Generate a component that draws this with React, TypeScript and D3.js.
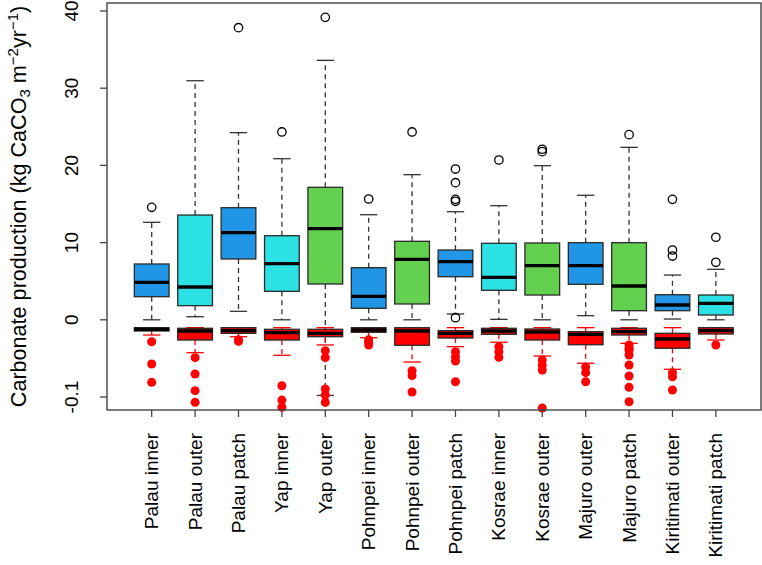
import React from "react";
import * as d3 from "d3";

const categories = [
  "Palau inner", "Palau outer", "Palau patch", "Yap inner", "Yap outer",
  "Pohnpei inner", "Pohnpei outer", "Pohnpei patch", "Kosrae inner", "Kosrae outer",
  "Majuro outer", "Majuro patch", "Kiritimati outer", "Kiritimati patch",
];

const BLUE = "#2196E6";
const CYAN = "#2CE1E3";
const GREEN = "#63D14F";
const boxColors = [BLUE, CYAN, BLUE, CYAN, GREEN, BLUE, GREEN, BLUE, CYAN, GREEN, BLUE, GREEN, BLUE, CYAN];

// Production (positive) box statistics
const posLow = [0, 0.4, 1.1, 0, -0.098, 0, 0, 0.75, 0.06, 0, 0.53, 0, 0.1, 0];
const posQ1 = [2.99, 1.83, 7.88, 3.69, 4.64, 1.49, 2.05, 5.58, 3.82, 3.21, 4.6, 1.18, 1.18, 0.62];
const posMed = [4.86, 4.25, 11.28, 7.27, 11.8, 3.04, 7.84, 7.53, 5.5, 7.01, 7.01, 4.38, 1.92, 2.14];
const posQ3 = [7.23, 13.57, 14.52, 10.89, 17.16, 6.75, 10.17, 9.04, 9.91, 9.95, 9.99, 9.99, 3.25, 3.21];
const posHigh = [12.63, 30.97, 24.24, 20.87, 33.61, 13.61, 18.8, 14.0, 14.78, 19.96, 16.13, 22.34, 5.8, 6.54];
const posOut = [
  [14.57], [], [37.84], [24.33], [39.18], [15.65], [24.33],
  [19.53, 17.76, 15.6, 15.35, 0.27], [20.7], [22.09, 21.78], [], [23.98],
  [15.6, 9.04, 8.26], [10.69, 7.45],
];

// Erosion (negative) box statistics
const negHigh = [-0.0102, -0.0102, -0.0102, -0.0102, -0.0102, -0.0102, -0.0102, -0.0102, -0.0102, -0.0102, -0.0102, -0.0102, -0.0102, -0.0102];
const negQ3 = [-0.0102, -0.011, -0.0102, -0.0123, -0.0123, -0.0102, -0.0102, -0.014, -0.011, -0.0119, -0.0154, -0.011, -0.0175, -0.0102];
const negMed = [-0.0123, -0.0145, -0.0141, -0.0167, -0.0175, -0.0132, -0.0145, -0.0175, -0.0145, -0.0158, -0.0188, -0.0154, -0.0249, -0.0141];
const negQ1 = [-0.0145, -0.0262, -0.0175, -0.0262, -0.0219, -0.0162, -0.033, -0.0236, -0.0188, -0.0262, -0.0323, -0.0197, -0.0369, -0.0184];
const negLow = [-0.0197, -0.0426, -0.0219, -0.046, -0.0326, -0.0232, -0.0547, -0.0348, -0.0291, -0.0469, -0.0563, -0.0305, -0.0641, -0.0262];
const negOut = [
  [-0.0284, -0.0573, -0.081],
  [-0.049, -0.0702, -0.0918, -0.1069],
  [-0.026, -0.028],
  [-0.0854, -0.104, -0.1133],
  [-0.04, -0.049, -0.0896, -0.0974, -0.107],
  [-0.026, -0.029, -0.0326],
  [-0.066, -0.0724, -0.0935],
  [-0.0413, -0.0478, -0.0534, -0.0802],
  [-0.0348, -0.0413, -0.0486],
  [-0.052, -0.0585, -0.065, -0.1143],
  [-0.0612, -0.0685, -0.0802],
  [-0.0326, -0.0369, -0.0391, -0.0456, -0.0586, -0.0728, -0.0874, -0.1061],
  [-0.0685, -0.0737, -0.0909],
  [-0.0326],
];

const yTicks = [40, 30, 20, 10, 0, -0.1];
const yTickLabels = ["40", "30", "20", "10", "0", "-0.1"];

const W = 762;
const H = 565;
const plotLeft = 107;
const plotRight = 761;
const plotTop = 3;
const plotBottom = 410;
const FONT = "'Liberation Sans', Arial, Helvetica, sans-serif";

// erosion values are shown on a x100 scale below zero
const toDisplay = (v: number) => (v >= 0 ? v : v * 100);

export default function App() {
  const x = d3.scaleLinear().domain([-0.03, 15.04]).range([plotLeft, plotRight]);
  const yLin = d3.scaleLinear().domain([-10, 40]).range([397, 11]);
  const y = (v: number) => yLin(toDisplay(v));
  const halfBox = (x(0.8) - x(0)) / 2;
  const halfCap = halfBox / 2;

  const renderBox = (
    i: number, low: number, q1: number, med: number, q3: number, high: number,
    outs: number[], fill: string, whiskColor: string, outlierFilled: boolean
  ) => {
    const cx = x(i + 1);
    const yTop = Math.min(y(q1), y(q3));
    const yBot = Math.max(y(q1), y(q3));
    const upper = toDisplay(q3) >= toDisplay(q1) ? q3 : q1;
    const lower = upper === q3 ? q1 : q3;
    return (
      <g key={`${fill}-${i}`}>
        <line x1={cx} x2={cx} y1={y(upper)} y2={y(high)} stroke={whiskColor} strokeWidth={1.3} strokeDasharray="5,4" />
        <line x1={cx} x2={cx} y1={y(lower)} y2={y(low)} stroke={whiskColor} strokeWidth={1.3} strokeDasharray="5,4" />
        <line x1={cx - halfCap} x2={cx + halfCap} y1={y(high)} y2={y(high)} stroke={whiskColor} strokeWidth={1.3} />
        <line x1={cx - halfCap} x2={cx + halfCap} y1={y(low)} y2={y(low)} stroke={whiskColor} strokeWidth={1.3} />
        <rect x={cx - halfBox} y={yTop} width={halfBox * 2} height={Math.max(yBot - yTop, 0.5)} fill={fill} stroke="#2a2a2a" strokeWidth={1.3} />
        <line x1={cx - halfBox} x2={cx + halfBox} y1={y(med)} y2={y(med)} stroke="#000" strokeWidth={3.3} />
        {outs.map((o, k) =>
          outlierFilled ? (
            <circle key={k} cx={cx} cy={y(o)} r={4.5} fill="#FF0000" />
          ) : (
            <circle key={k} cx={cx} cy={y(o)} r={4.2} fill="none" stroke="#000" strokeWidth={1.3} />
          )
        )}
      </g>
    );
  };

  return (
    <svg width={W} height={H} style={{ position: "absolute", left: 0, top: 0, background: "#fff" }} fontFamily={FONT}>
      <rect x={0} y={0} width={W} height={H} fill="#fff" />
      {categories.map((_, i) =>
        renderBox(i, posLow[i], posQ1[i], posMed[i], posQ3[i], posHigh[i], posOut[i], boxColors[i], "#333", false)
      )}
      {categories.map((_, i) =>
        renderBox(i, negLow[i], negQ1[i], negMed[i], negQ3[i], negHigh[i], negOut[i], "#FF0000", "#FF0000", true)
      )}
      {/* frame */}
      <rect x={plotLeft} y={plotTop} width={plotRight - plotLeft} height={plotBottom - plotTop} fill="none" stroke="#444" strokeWidth={1.4} />
      {/* y axis */}
      {yTicks.map((t, k) => (
        <g key={`yt${k}`}>
          <line x1={plotLeft - 7} x2={plotLeft} y1={y(t)} y2={y(t)} stroke="#444" strokeWidth={1.3} />
          <text
            transform={`translate(78,${y(t)}) rotate(-90)`}
            textAnchor="middle"
            fontSize={19}
            fill="#000"
          >
            {yTickLabels[k]}
          </text>
        </g>
      ))}
      {/* x axis */}
      {categories.map((c, i) => (
        <g key={`xt${i}`}>
          <line x1={x(i + 1)} x2={x(i + 1)} y1={plotBottom} y2={plotBottom + 7} stroke="#444" strokeWidth={1.3} />
          <text
            transform={`translate(${x(i + 1)},433) rotate(-90)`}
            textAnchor="end"
            dominantBaseline="central"
            fontSize={19}
            fill="#000"
          >
            {c}
          </text>
        </g>
      ))}
      {/* y title */}
      <text
        transform={`translate(26,${(plotTop + plotBottom) / 2}) rotate(-90)`}
        textAnchor="middle"
        fontSize={21.6}
        fill="#000"
      >
        Carbonate production (kg CaCO
        <tspan fontSize={15} dy={4}>3</tspan>
        <tspan dy={-4}> m</tspan>
        <tspan fontSize={15} dy={-8}>−2</tspan>
        <tspan dy={8}>yr</tspan>
        <tspan fontSize={15} dy={-8}>−1</tspan>
        <tspan dy={8}>)</tspan>
      </text>
    </svg>
  );
}
